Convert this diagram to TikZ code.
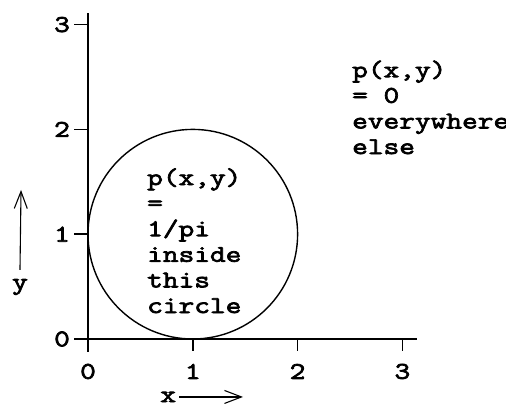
\documentclass[tikz,border=0pt]{standalone}
\usepackage{fontspec}
\newfontfamily\plotfont{Latin Modern Mono}[FakeStretch=1.27, FakeBold=3]
\usepackage{tikz}
\usetikzlibrary{arrows.meta, positioning}

\begin{document}
\begin{tikzpicture}[
    x=104.8pt, y=104.8pt,
    axis/.style={line width=1.4pt},
    lbl/.style={font=\plotfont\fontsize{24}{25.6}\selectfont, inner sep=0pt},
    txt/.style={lbl, align=left, anchor=base west},
    arr/.style={-{Straight Barb[length=17pt, width=13pt, line width=1.1pt]}, line width=1.1pt}
  ]
  \useasboundingbox (-0.8397,-0.6489) rectangle (3.9885,3.2347);

  % Axes
  \draw[axis] (0,-0.124) -- (0,3.111);
  \draw[axis] (-0.13,0) -- (3.139,0);
  \foreach \k in {0,1,2,3} {
    \draw[axis] (-0.13,\k) -- (0,\k);
    \draw[axis] (\k,0) -- (\k,-0.115);
    \node[lbl] (ytick\k) at (-0.248,\k) {\k};
    \node[lbl] (xtick\k) at (\k,-0.31) {\k};
  }

  % Circle
  \draw[axis] (1,1) circle (1);

  % Texts (anchored at the last line)
  \node[txt] (inside) at (0.563,0.248) {p(x,y)\\=\\1/pi\\inside\\this\\circle};
  \node[txt] (outside) at (2.519,1.765) {p(x,y)\\= 0\\everywhere\\else};

  % Axis names
  \node[lbl] (ylab) at (-0.649,0.496) {y};
  \node[lbl] (xlab) at (0.765,-0.553) {x};
  \coordinate (ytip) at (-0.639,1.422);
  \coordinate (xtip) at (1.479,-0.553);
  \draw[arr] ([yshift=9pt]ylab.north) -- (ytip);
  \draw[arr] ([xshift=3pt]xlab.east) -- (xtip);
\end{tikzpicture}
\end{document}
